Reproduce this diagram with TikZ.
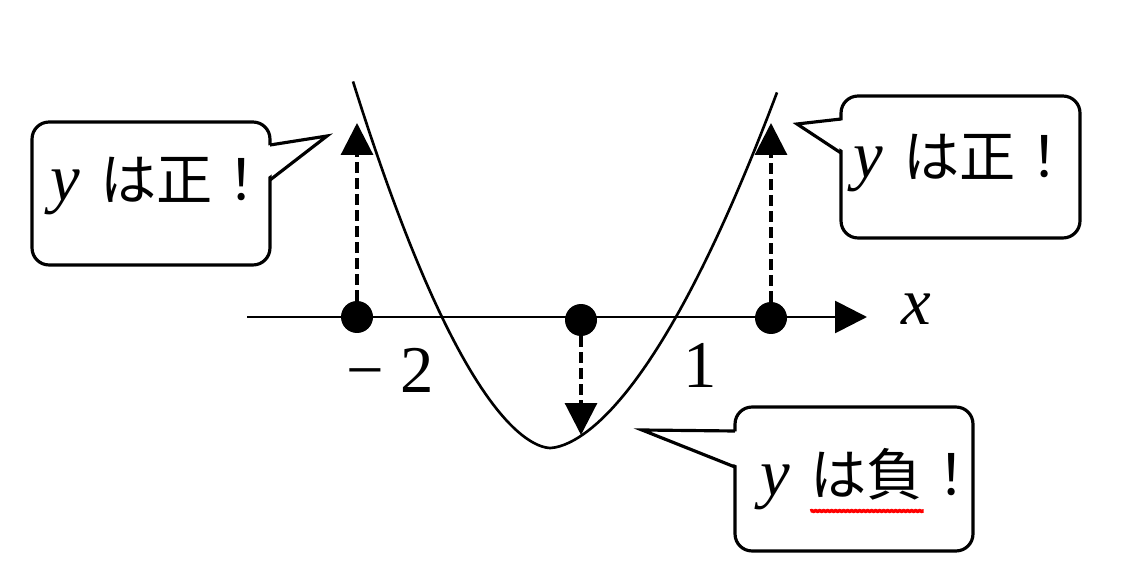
\documentclass[tikz,border=0pt]{standalone}
\usepackage{fontspec}
\setmainfont{Liberation Serif}
\newfontfamily\jp{Noto Sans CJK JP}
\usepackage{tikz}
\usetikzlibrary{arrows.meta,positioning,decorations.pathmorphing}
\tikzstyle{lat}=[inner sep=0pt,anchor=base west,font=\fontsize{38}{40}\selectfont]
\tikzstyle{jap}=[inner sep=0pt,anchor=base west,font=\jp\fontsize{32}{34}\selectfont]
\tikzstyle{balloon}=[draw=black,line width=1.8pt,rounded corners=0.34cm,inner sep=0pt]
\tikzstyle{beak}=[line width=1.8pt,line join=miter,miter limit=20]
\tikzstyle{pt}=[circle,fill=black,inner sep=0pt,minimum size=0.64cm]
\tikzstyle{guide}=[line width=1.8pt,dash pattern=on 0.22cm off 0.1cm,-{Triangle[width=0.64cm,length=0.64cm]}]

\begin{document}
\begin{tikzpicture}[x=0.02cm,y=-0.02cm]
        \useasboundingbox (0,0) rectangle (1132,577);
        \coordinate (xl) at (247,317);
        \coordinate (xr) at (867,317);
        \draw[line width=1.6pt,-{Triangle[width=0.64cm,length=0.64cm]}] (xl) -- (xr);
        \node[lat] (xlab) at (901,325) {\textit{x}};
        \node[lat] (lm2) at (346,392) {−\ 2};
        \node[lat] (l1) at (683,387) {1};
        \draw[line width=1.5pt] plot[domain=197:0.5,samples=50] ({550-\x},{448-0.0428*\x^1.714})
          -- plot[domain=0.5:227,samples=50] ({550+\x},{448-0.0361*\x^1.695});
        \node[pt] (pa) at (357,317) {};
        \node[pt] (pb) at (581,320) {};
        \node[pt] (pc) at (771,318) {};
        \coordinate (ta) at (357,123);
        \coordinate (tb) at (581,435);
        \coordinate (tc) at (771,123);
        \draw[guide] (pa.north) -- (ta);
        \draw[guide] (pb.south) -- (tb);
        \draw[guide] (pc.north) -- (tc);
        \node[balloon,minimum width=4.76cm,minimum height=2.86cm] (lbox) at (151,193.5) {};
        \coordinate (ltip) at (327,136);
        \fill[white] (265,146) -- (ltip) -- (265,179) -- cycle;
        \draw[beak] (270,145) -- (ltip) -- (270,180);
        \node[lat] (ly) at (50,201) {\textit{y}};
        \node[jap] (lpos) at ([xshift=0.4cm]ly.base east) {は正！};
        \node[balloon,minimum width=4.78cm,minimum height=2.84cm] (rbox) at (960.5,167) {};
        \coordinate (rtip) at (797,124);
        \fill[white] (846,120) -- (rtip) -- (846,152) -- cycle;
        \draw[beak] (841,119) -- (rtip) -- (841,153);
        \node[lat] (ry) at (853,178) {\textit{y}};
        \node[jap] (rpos) at ([xshift=0.4cm]ry.base east) {は正！};
        \node[balloon,minimum width=4.76cm,minimum height=2.88cm] (nbox) at (854,479) {};
        \coordinate (ntip) at (642,430);
        \fill[white] (740,431.5) -- (ntip) -- (740,466.5) -- cycle;
        \draw[beak] (735,431) -- (ntip) -- (735,467);
        \node[lat] (ny) at (760,495) {\textit{y}};
        \node[jap] (nneg) at ([xshift=0.4cm]ny.base east) {は負};
        \node[jap] (nex) at (nneg.base east) {！};
        \draw[red,line width=2pt,decorate,decoration={snake,amplitude=0.008cm,segment length=0.08cm}]
          ([yshift=-0.32cm]nneg.base west) -- ([yshift=-0.32cm]nneg.base east);
\end{tikzpicture}
\end{document}
